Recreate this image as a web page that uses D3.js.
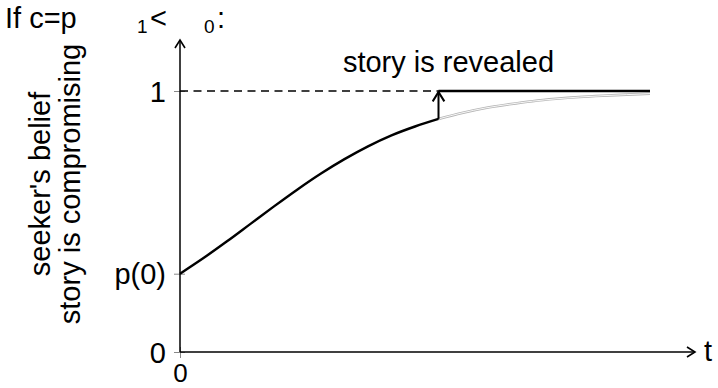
<!DOCTYPE html>
<html>
<head>
<meta charset="utf-8">
<script src="https://cdn.jsdelivr.net/npm/d3@7"></script>
<style>
  html, body { margin: 0; padding: 0; background: #fff; }
  svg { display: block; font-family: "Liberation Sans", Arial, sans-serif; }
</style>
</head>
<body>
<svg id="chart" width="718" height="388"></svg>
<script>
// Belief path before the story is revealed (t, belief)
const beforeT = [0, 0.5, 1, 1.5, 2, 2.5, 3, 3.5, 4, 4.5, 5, 5.5];
const beforeP = [0.300, 0.360, 0.424, 0.491, 0.558, 0.623, 0.684, 0.739, 0.788, 0.830, 0.864, 0.893];
// Counterfactual path if the story stayed hidden
const afterT = [5.5, 6, 6.5, 7, 7.5, 8, 8.5, 9, 9.5, 10];
const afterP = [0.893, 0.916, 0.935, 0.949, 0.961, 0.970, 0.977, 0.982, 0.986, 0.990];
// Revelation time and final belief
const revealT = 5.5;
const endT = 10;
const revealedP = 1;
// Axis ticks
const yTickValues = [0, 0.300, 1];
const yTickLabels = ["0", "p(0)", "1"];
const xTickValues = [0];
const xTickLabels = ["0"];

const FONT = 29;
const svg = d3.select("#chart");
const x = d3.scaleLinear().domain([0, 11]).range([180, 697]);
const y = d3.scaleLinear().domain([0, 1]).range([352, 91]);

const defs = svg.append("defs");
function chevron(id, size, sw) {
  defs.append("marker")
    .attr("id", id)
    .attr("viewBox", "-10 -6 12 12")
    .attr("refX", 0).attr("refY", 0)
    .attr("markerWidth", size).attr("markerHeight", size)
    .attr("markerUnits", "userSpaceOnUse")
    .attr("orient", "auto")
    .append("path")
    .attr("d", "M-8,-5 L0,0 L-8,5")
    .attr("fill", "none")
    .attr("stroke", "#000")
    .attr("stroke-width", sw);
}
chevron("axisArrow", 12, 1.6);
chevron("jumpArrow", 14, 1.8);

// Y axis ticks and labels
const yAxis = d3.axisLeft(y)
  .tickValues(yTickValues)
  .tickFormat((d, i) => yTickLabels[i])
  .tickSize(6)
  .tickPadding(8);
const gy = svg.append("g").attr("transform", `translate(${x(0)},0)`).call(yAxis);
gy.select(".domain").remove();
gy.selectAll(".tick line").attr("x1", 5).attr("x2", -6).attr("stroke", "#888").attr("stroke-width", 1);
gy.selectAll(".tick text").attr("font-size", FONT).attr("fill", "#000")
  .attr("font-family", "Liberation Sans, Arial, sans-serif").attr("dy", "0.35em").attr("x", -14);

// X axis ticks and labels
const xAxis = d3.axisBottom(x)
  .tickValues(xTickValues)
  .tickFormat((d, i) => xTickLabels[i])
  .tickSize(6)
  .tickPadding(8);
const gx = svg.append("g").attr("transform", `translate(0,${y(0)})`).call(xAxis);
gx.select(".domain").remove();
gx.selectAll(".tick line").attr("y1", -5).attr("y2", 6).attr("stroke", "#888").attr("stroke-width", 1);
gx.selectAll(".tick text").attr("font-size", 26).attr("fill", "#000")
  .attr("font-family", "Liberation Sans, Arial, sans-serif").attr("y", 30).attr("dy", null);

// Axis lines with arrowheads
svg.append("line")
  .attr("x1", x(0)).attr("y1", y(0)).attr("x2", x(0)).attr("y2", y(1) - 51)
  .attr("stroke", "#000").attr("stroke-width", 1.5).attr("marker-end", "url(#axisArrow)");
svg.append("line")
  .attr("x1", x(0)).attr("y1", y(0)).attr("x2", x(11) - 2).attr("y2", y(0))
  .attr("stroke", "#000").attr("stroke-width", 1.5).attr("marker-end", "url(#axisArrow)");

// Dashed reference at belief = 1
svg.append("line")
  .attr("x1", x(0)).attr("y1", y(1)).attr("x2", x(revealT)).attr("y2", y(1))
  .attr("stroke", "#000").attr("stroke-width", 1.5).attr("stroke-dasharray", "8,5.5");

const line = d3.line().x(d => x(d[0])).y(d => y(d[1])).curve(d3.curveMonotoneX);

// Counterfactual path drawn as a thin grey double line
const afterData = afterT.map((t, i) => [t, afterP[i]]);
svg.append("path").datum(afterData).attr("d", line)
  .attr("fill", "none").attr("stroke", "#b4b4b4").attr("stroke-width", 2.6);
svg.append("path").datum(afterData).attr("d", line)
  .attr("fill", "none").attr("stroke", "#fff").attr("stroke-width", 0.9);

// Belief path before revelation
const beforeData = beforeT.map((t, i) => [t, beforeP[i]]);
svg.append("path").datum(beforeData).attr("d", line)
  .attr("fill", "none").attr("stroke", "#000").attr("stroke-width", 2.4);

// Jump to certainty at revelation
svg.append("line")
  .attr("x1", x(revealT)).attr("y1", y(beforeP[beforeP.length - 1]))
  .attr("x2", x(revealT)).attr("y2", y(revealedP) + 1)
  .attr("stroke", "#000").attr("stroke-width", 2).attr("marker-end", "url(#jumpArrow)");
svg.append("line")
  .attr("x1", x(revealT)).attr("y1", y(revealedP)).attr("x2", x(endT)).attr("y2", y(revealedP))
  .attr("stroke", "#000").attr("stroke-width", 2.4);

// Annotations
svg.append("text").attr("x", x(revealT) + 10).attr("y", 72)
  .attr("font-size", FONT).attr("text-anchor", "middle").text("story is revealed");
svg.append("text").attr("x", x(11) + 7).attr("y", y(0) + 9)
  .attr("font-size", FONT).text("t");

// Y axis title (two lines, rotated)
const yTitle = svg.append("text").attr("transform", "translate(0,184) rotate(-90)")
  .attr("font-size", FONT).attr("text-anchor", "middle");
yTitle.append("tspan").attr("x", 0).attr("y", 50).text("seeker's belief");
yTitle.append("tspan").attr("x", 0).attr("y", 80).text("story is compromising");

// Heading
const head = svg.append("g").attr("font-size", FONT);
head.append("text").attr("x", 5).attr("y", 28).text("If c=p");
head.append("text").attr("x", 137).attr("y", 33).attr("font-size", 19).text("1");
head.append("text").attr("x", 150).attr("y", 28).text("<");
head.append("text").attr("x", 204).attr("y", 33).attr("font-size", 19).text("0");
head.append("text").attr("x", 217).attr("y", 28).text(":");
</script>
</body>
</html>
